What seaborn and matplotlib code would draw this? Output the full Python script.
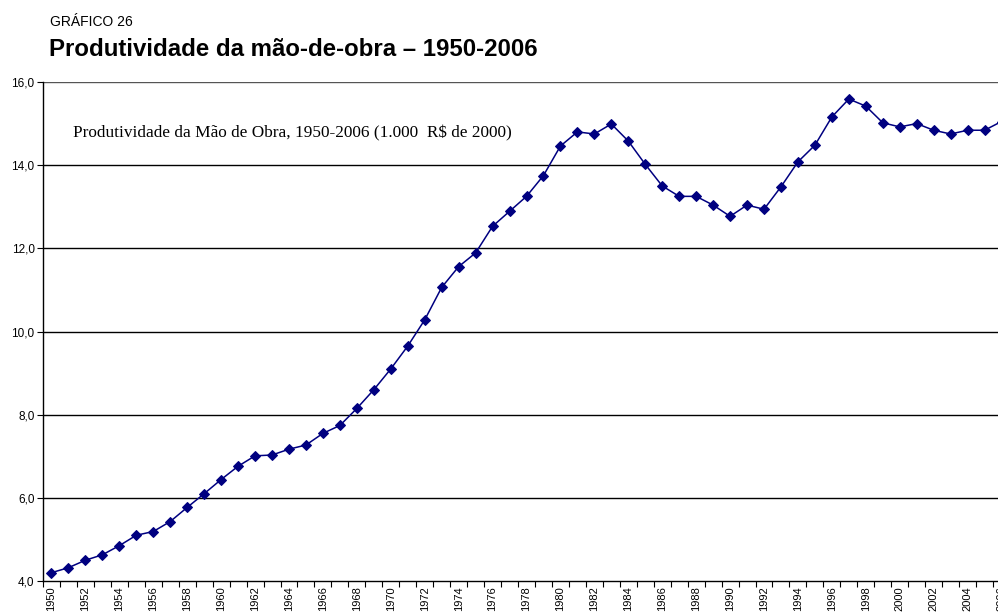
import numpy as np
import pandas as pd
import seaborn as sns
import matplotlib.pyplot as plt
from matplotlib.ticker import FixedLocator

# data (1.000 R$ de 2000)
years = list(range(1950, 2007))
productivity = [
    4.20, 4.32, 4.50, 4.63, 4.85, 5.10, 5.19, 5.43, 5.77, 6.10,
    6.44, 6.76, 7.01, 7.03, 7.17, 7.27, 7.55, 7.74, 8.15, 8.60,
    9.10, 9.65, 10.28, 11.06, 11.56, 11.89, 12.53, 12.89, 13.25, 13.75,
    14.46, 14.80, 14.75, 14.99, 14.58, 14.02, 13.50, 13.25, 13.25, 13.04,
    12.77, 13.04, 12.94, 13.48, 14.08, 14.48, 15.16, 15.59, 15.42, 15.02,
    14.92, 15.00, 14.84, 14.75, 14.84, 14.84, 15.05,
]
y_ticks = [4.0, 6.0, 8.0, 10.0, 12.0, 14.0, 16.0]
x_label_years = [y for y in years if y % 2 == 0]

supertitle = "GRÁFICO 26"
main_title = "Produtividade da mão-de-obra – 1950-2006"
inner_title = "Produtividade da Mão de Obra, 1950-2006 (1.000  R$ de 2000)"

df = pd.DataFrame({"ano": years, "valor": productivity})

sns.set_style("white")
plt.rcParams["font.family"] = ["Liberation Sans", "DejaVu Sans"]
plt.rcParams["text.color"] = "black"
plt.rcParams["xtick.color"] = "black"
plt.rcParams["ytick.color"] = "black"

fig = plt.figure(figsize=(9.98, 6.12), dpi=100)
ax = fig.add_axes([43 / 998, 31 / 612, 967 / 998, 499 / 612])

sns.lineplot(data=df, x="ano", y="valor", ax=ax, color="#000080",
             marker="D", markersize=5, markeredgecolor="#000080",
             linewidth=1.1, zorder=3)

ax.set_xlim(1949.5, 2006.5)
ax.set_ylim(4.0, 16.0)
ax.set_xlabel("")
ax.set_ylabel("")

# horizontal gridlines like the Excel original
for v in y_ticks[1:]:
    ax.axhline(v, color="#000000" if v < 16 else "#555555", linewidth=1.0, zorder=1)

ax.set_yticks(y_ticks)
ax.set_yticklabels([f"{v:.1f}".replace(".", ",") for v in y_ticks], fontsize=8.5)
ax.tick_params(axis="y", direction="out", length=4, width=0.8, pad=2, left=True)

ax.set_xticks(x_label_years)
ax.set_xticklabels([str(y) for y in x_label_years], rotation=90, fontsize=8)
ax.tick_params(axis="x", which="major", length=0, pad=4)
ax.xaxis.set_minor_locator(FixedLocator([y - 0.5 for y in years] + [2006.5]))
ax.tick_params(axis="x", which="minor", direction="out", length=4, width=0.8, bottom=True)

for side in ["top", "right"]:
    ax.spines[side].set_visible(False)
for side in ["left", "bottom"]:
    ax.spines[side].set_color("black")
    ax.spines[side].set_linewidth(1.0)

ax.text(0.0313, 0.888, inner_title, transform=ax.transAxes, fontsize=12.4,
        family=["Liberation Serif", "DejaVu Serif"], va="baseline", ha="left")

fig.text(50 / 998, 1 - 22 / 612, supertitle, fontsize=10,
         va="center", ha="left")
fig.text(49 / 998, 1 - 56 / 612, main_title, fontsize=17.3, fontweight="bold",
         va="baseline", ha="left")

fig.savefig("out.png", dpi=100)
